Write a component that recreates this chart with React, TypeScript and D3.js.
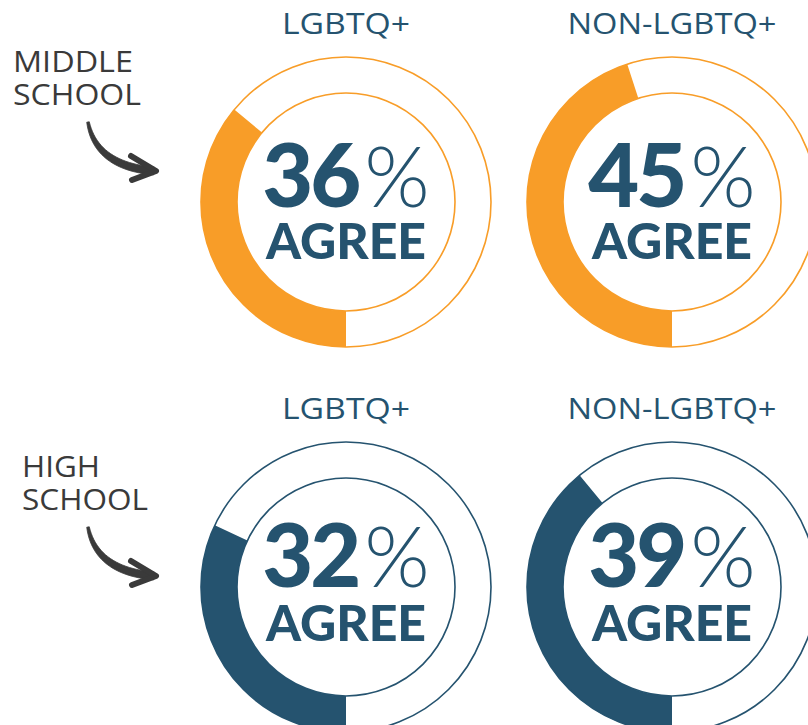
import React from "react";
import * as d3 from "d3";

// ---- data ----
const groups = ["LGBTQ+", "NON-LGBTQ+"];
const schoolLabels = [["MIDDLE", "SCHOOL"], ["HIGH", "SCHOOL"]];
const middleSchoolAgree = [36, 45];
const highSchoolAgree = [32, 39];
const agreeWord = "AGREE";

// ---- style / layout ----
const W = 808;
const H = 725;
const ORANGE = "#F89D28";
const BLUE = "#25536F";
const GRAY = "#3A3A3A";
const OUTER_R = 145;
const INNER_R = 109;
const rowColors = [ORANGE, BLUE];
const rowCY = [202, 587];
const colCX = [346, 672];
const numDy = [5, 0];
const agreeDy = [57, 54];
const labelX = [13, 22];
const labelBaseY = [72, 477];
const labelW = [[120, 128], [78, 126]];
const arrowDy = [0, 405];
const headerW = [128, 209];

const angle = d3.scaleLinear().domain([0, 100]).range([Math.PI, 3 * Math.PI]);
const arcGen = d3.arc<any>().innerRadius(INNER_R).outerRadius(OUTER_R);

// tapered brush-like arrow shaft along a quadratic curve
function shaftPath(dy: number) {
  const p0 = [88, 122 + dy];
  const p1 = [96, 166 + dy];
  const p2 = [154, 171 + dy];
  const left: [number, number][] = [];
  const right: [number, number][] = [];
  const n = 24;
  for (let i = 0; i <= n; i++) {
    const t = i / n;
    const x = (1 - t) * (1 - t) * p0[0] + 2 * (1 - t) * t * p1[0] + t * t * p2[0];
    const y = (1 - t) * (1 - t) * p0[1] + 2 * (1 - t) * t * p1[1] + t * t * p2[1];
    const tx = 2 * (1 - t) * (p1[0] - p0[0]) + 2 * t * (p2[0] - p1[0]);
    const ty = 2 * (1 - t) * (p1[1] - p0[1]) + 2 * t * (p2[1] - p1[1]);
    const len = Math.hypot(tx, ty) || 1;
    const nx = -ty / len;
    const ny = tx / len;
    const hw = 1.3 + 2.6 * Math.sin(Math.min(1, t * 1.15) * Math.PI * 0.5);
    left.push([x + nx * hw, y + ny * hw]);
    right.push([x - nx * hw, y - ny * hw]);
  }
  const pts = left.concat(right.reverse());
  return d3.line().curve(d3.curveLinearClosed)(pts) || "";
}

function Arrow({ dy }: { dy: number }) {
  const head = d3.path();
  head.moveTo(131, 156 + dy);
  head.lineTo(156, 171 + dy);
  head.lineTo(132, 180 + dy);
  return (
    <g>
      <path d={shaftPath(dy)} fill={GRAY} stroke={GRAY} strokeWidth={0.8} strokeLinejoin="round" />
      <path
        d={head.toString()}
        fill="none"
        stroke={GRAY}
        strokeWidth={6}
        strokeLinecap="round"
        strokeLinejoin="round"
      />
    </g>
  );
}

export default function App() {
  const rows = [middleSchoolAgree, highSchoolAgree];
  return (
    <svg
      width={W}
      height={H}
      viewBox={`0 0 ${W} ${H}`}
      style={{ position: "absolute", left: 0, top: 0, background: "#fff" }}
    >
      {rows.map((vals, r) => (
        <g key={r}>
          {schoolLabels[r].map((line, i) => (
            <text
              key={i}
              x={labelX[r]}
              y={labelBaseY[r] + i * 33}
              fontFamily="'Open Sans', sans-serif"
              fontSize={30}
              fill={GRAY}
              textLength={labelW[r][i]}
              lengthAdjust="spacingAndGlyphs"
            >
              {line}
            </text>
          ))}
          <Arrow dy={arrowDy[r]} />
          {vals.map((v, c) => {
            const cx = colCX[c];
            const cy = rowCY[r];
            const col = rowColors[r];
            return (
              <g key={c}>
                <text
                  x={cx}
                  y={cy - OUTER_R - 23}
                  textAnchor="middle"
                  fontFamily="'Open Sans', sans-serif"
                  fontSize={30}
                  fill={BLUE}
                  textLength={headerW[c]}
                  lengthAdjust="spacingAndGlyphs"
                >
                  {groups[c]}
                </text>
                <g transform={`translate(${cx},${cy})`}>
                  <path
                    d={arcGen({ startAngle: angle(0), endAngle: angle(v) }) || ""}
                    fill={col}
                  />
                  <circle r={OUTER_R} fill="none" stroke={col} strokeWidth={1.6} />
                  <circle r={INNER_R} fill="none" stroke={col} strokeWidth={1.6} />
                  <text
                    x={0}
                    y={numDy[r]}
                    textAnchor="middle"
                    fontFamily="Lato, sans-serif"
                    fill={BLUE}
                  >
                    <tspan fontWeight={900} fontSize={88} letterSpacing={-3}>
                      {String(v)}
                    </tspan>
                    <tspan fontWeight={300} fontSize={84} dx={6}>
                      %
                    </tspan>
                  </text>
                  <text
                    x={0}
                    y={agreeDy[r]}
                    textAnchor="middle"
                    fontFamily="Lato, sans-serif"
                    fontWeight={900}
                    fontSize={50}
                    fill={BLUE}
                  >
                    {agreeWord}
                  </text>
                </g>
              </g>
            );
          })}
        </g>
      ))}
    </svg>
  );
}
